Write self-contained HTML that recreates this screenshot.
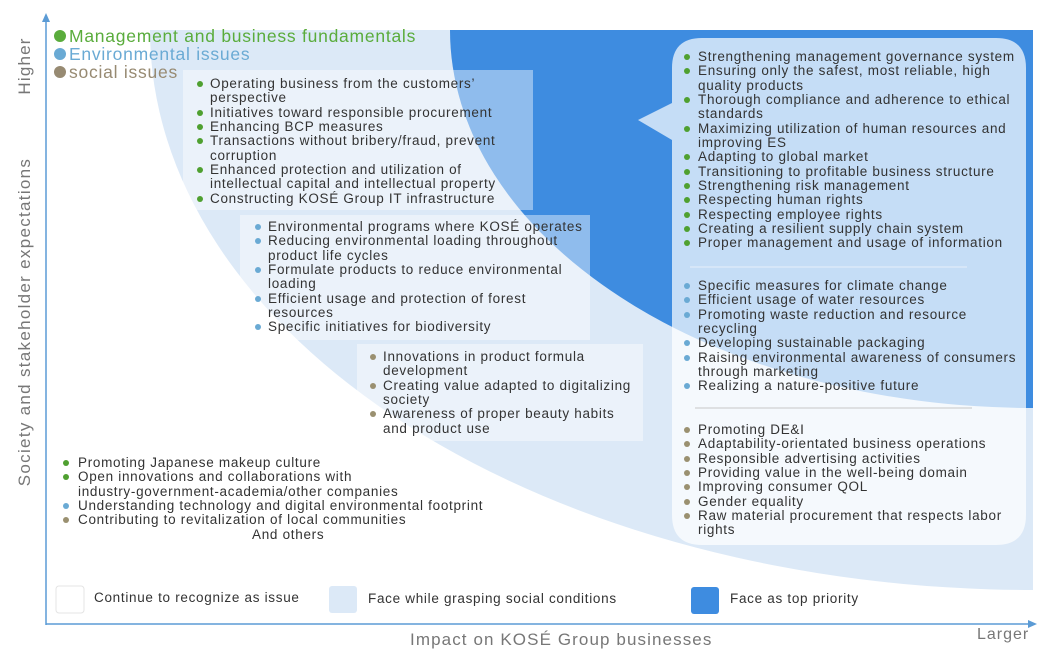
<!DOCTYPE html>
<html><head><meta charset="utf-8">
<style>
body{margin:0;width:1045px;height:654px;background:#fff;overflow:hidden;position:relative;font-family:"Liberation Sans","Noto Sans CJK JP",sans-serif;}
.t{position:absolute;white-space:nowrap;font-size:13.5px;line-height:14.35px;color:#333;letter-spacing:0.7px;}
.t .b{position:absolute;width:6px;height:6px;border-radius:50%;}
.g{background:#4fa030}.e{background:#6aaad4}.s{background:#9a9070}
.lab{position:absolute;white-space:nowrap;color:#777;}
</style></head><body>
<svg width="1045" height="654" style="position:absolute;left:0;top:0">
<path d="M150 30 A883 560 0 0 0 1033 590 L1033 30 Z" fill="#dce9f7"/>
<path d="M450 30 A583 378 0 0 0 1033 408 L1033 30 Z" fill="#3e8ce0"/>
<rect x="183" y="70" width="350" height="140" fill="rgba(255,255,255,0.42)"/>
<rect x="240" y="215" width="350" height="125" fill="rgba(255,255,255,0.42)"/>
<rect x="357" y="344" width="286" height="97" fill="rgba(255,255,255,0.42)"/>
<path d="M702 38 H996 Q1026 38 1026 68 V515 Q1026 545 996 545 H702 Q672 545 672 515 V140 L638 120 L672 103 V68 Q672 38 702 38 Z" fill="rgba(255,255,255,0.7)"/>
<line x1="690" y1="267" x2="967" y2="267" stroke="#e8f0fa" stroke-width="1"/>
<line x1="695" y1="408" x2="972" y2="408" stroke="#c8c8c8" stroke-width="1"/>
<line x1="46" y1="20" x2="46" y2="625" stroke="#5b9bd5" stroke-width="1.5"/>
<path d="M42 22 L46 13 L50 22 Z" fill="#5b9bd5"/>
<line x1="46" y1="624" x2="1030" y2="624" stroke="#5b9bd5" stroke-width="1.5"/>
<path d="M1028 620 L1037 624 L1028 628 Z" fill="#5b9bd5"/>
<rect x="56" y="586" width="28" height="27" rx="3" fill="#fff" stroke="#e4e4e4"/>
<rect x="329" y="586" width="28" height="27" rx="3" fill="#dce9f7"/>
<rect x="691" y="587" width="28" height="27" rx="3" fill="#3e8ce0"/>
</svg>

<div class="lab" style="left:54px;top:26px;font-size:17.5px;letter-spacing:0.75px;color:#5aac3c;"><span style="display:inline-block;width:12px;height:12px;border-radius:50%;background:#5aac3c;margin-right:3px"></span>Management and business fundamentals</div>
<div class="lab" style="left:54px;top:44px;font-size:17.5px;letter-spacing:0.75px;color:#6aaad4;"><span style="display:inline-block;width:12px;height:12px;border-radius:50%;background:#6aaad4;margin-right:3px"></span>Environmental issues</div>
<div class="lab" style="left:54px;top:62px;font-size:17.5px;letter-spacing:0.75px;color:#978a72;"><span style="display:inline-block;width:12px;height:12px;border-radius:50%;background:#978a72;margin-right:3px"></span>social issues</div>

<div class="lab" style="left:25px;top:66px;font-size:17px;letter-spacing:1.2px;transform:translate(-50%,-50%) rotate(-90deg);">Higher</div>
<div class="lab" style="left:25px;top:322px;font-size:17px;letter-spacing:1.3px;transform:translate(-50%,-50%) rotate(-90deg);">Society and stakeholder expectations</div>
<div class="lab" style="left:410px;top:630px;font-size:17px;letter-spacing:1.1px;">Impact on KOSÉ Group businesses</div>
<div class="lab" style="left:977px;top:626px;font-size:16px;letter-spacing:1px;">Larger</div>

<div class="t" style="left:94px;top:591px;">Continue to recognize as issue</div>
<div class="t" style="left:368px;top:592px;">Face while grasping social conditions</div>
<div class="t" style="left:730px;top:592px;">Face as top priority</div>

<div class="t" style="left:210px;top:77px;">
<i class="b g" style="left:-13px;top:4px"></i>Operating business from the customers’<br>perspective<br>
<i class="b g" style="left:-13px;top:33px"></i>Initiatives toward responsible procurement<br>
<i class="b g" style="left:-13px;top:47px"></i>Enhancing BCP measures<br>
<i class="b g" style="left:-13px;top:61px"></i>Transactions without bribery/fraud, prevent<br>corruption<br>
<i class="b g" style="left:-13px;top:90px"></i>Enhanced protection and utilization of<br>intellectual capital and intellectual property<br>
<i class="b g" style="left:-13px;top:119px"></i>Constructing KOSÉ Group IT infrastructure</div>

<div class="t" style="left:268px;top:220px;">
<i class="b e" style="left:-13px;top:4px"></i>Environmental programs where KOSÉ operates<br>
<i class="b e" style="left:-13px;top:18px"></i>Reducing environmental loading throughout<br>product life cycles<br>
<i class="b e" style="left:-13px;top:47px"></i>Formulate products to reduce environmental<br>loading<br>
<i class="b e" style="left:-13px;top:76px"></i>Efficient usage and protection of forest<br>resources<br>
<i class="b e" style="left:-13px;top:104px"></i>Specific initiatives for biodiversity</div>

<div class="t" style="left:383px;top:350px;">
<i class="b s" style="left:-13px;top:4px"></i>Innovations in product formula<br>development<br>
<i class="b s" style="left:-13px;top:33px"></i>Creating value adapted to digitalizing<br>society<br>
<i class="b s" style="left:-13px;top:61px"></i>Awareness of proper beauty habits<br>and product use</div>

<div class="t" style="left:78px;top:456px;">
<i class="b g" style="left:-15px;top:4px"></i>Promoting Japanese makeup culture<br>
<i class="b g" style="left:-15px;top:18px"></i>Open innovations and collaborations with<br>industry-government-academia/other companies<br>
<i class="b e" style="left:-15px;top:47px"></i>Understanding technology and digital environmental footprint<br>
<i class="b s" style="left:-15px;top:61px"></i>Contributing to revitalization of local communities<br>
<span style="padding-left:174px">And others</span></div>

<div class="t" style="left:698px;top:50px;">
<i class="b g" style="left:-14px;top:4px"></i>Strengthening management governance system<br>
<i class="b g" style="left:-14px;top:18px"></i>Ensuring only the safest, most reliable, high<br>quality products<br>
<i class="b g" style="left:-14px;top:47px"></i>Thorough compliance and adherence to ethical<br>standards<br>
<i class="b g" style="left:-14px;top:76px"></i>Maximizing utilization of human resources and<br>improving ES<br>
<i class="b g" style="left:-14px;top:104px"></i>Adapting to global market<br>
<i class="b g" style="left:-14px;top:119px"></i>Transitioning to profitable business structure<br>
<i class="b g" style="left:-14px;top:133px"></i>Strengthening risk management<br>
<i class="b g" style="left:-14px;top:147px"></i>Respecting human rights<br>
<i class="b g" style="left:-14px;top:162px"></i>Respecting employee rights<br>
<i class="b g" style="left:-14px;top:176px"></i>Creating a resilient supply chain system<br>
<i class="b g" style="left:-14px;top:190px"></i>Proper management and usage of information</div>

<div class="t" style="left:698px;top:279px;">
<i class="b e" style="left:-14px;top:4px"></i>Specific measures for climate change<br>
<i class="b e" style="left:-14px;top:18px"></i>Efficient usage of water resources<br>
<i class="b e" style="left:-14px;top:33px"></i>Promoting waste reduction and resource<br>recycling<br>
<i class="b e" style="left:-14px;top:61px"></i>Developing sustainable packaging<br>
<i class="b e" style="left:-14px;top:76px"></i>Raising environmental awareness of consumers<br>through marketing<br>
<i class="b e" style="left:-14px;top:104px"></i>Realizing a nature-positive future</div>

<div class="t" style="left:698px;top:423px;">
<i class="b s" style="left:-14px;top:4px"></i>Promoting DE&amp;I<br>
<i class="b s" style="left:-14px;top:18px"></i>Adaptability-orientated business operations<br>
<i class="b s" style="left:-14px;top:33px"></i>Responsible advertising activities<br>
<i class="b s" style="left:-14px;top:47px"></i>Providing value in the well-being domain<br>
<i class="b s" style="left:-14px;top:61px"></i>Improving consumer QOL<br>
<i class="b s" style="left:-14px;top:76px"></i>Gender equality<br>
<i class="b s" style="left:-14px;top:90px"></i>Raw material procurement that respects labor<br>rights</div>
</body></html>
